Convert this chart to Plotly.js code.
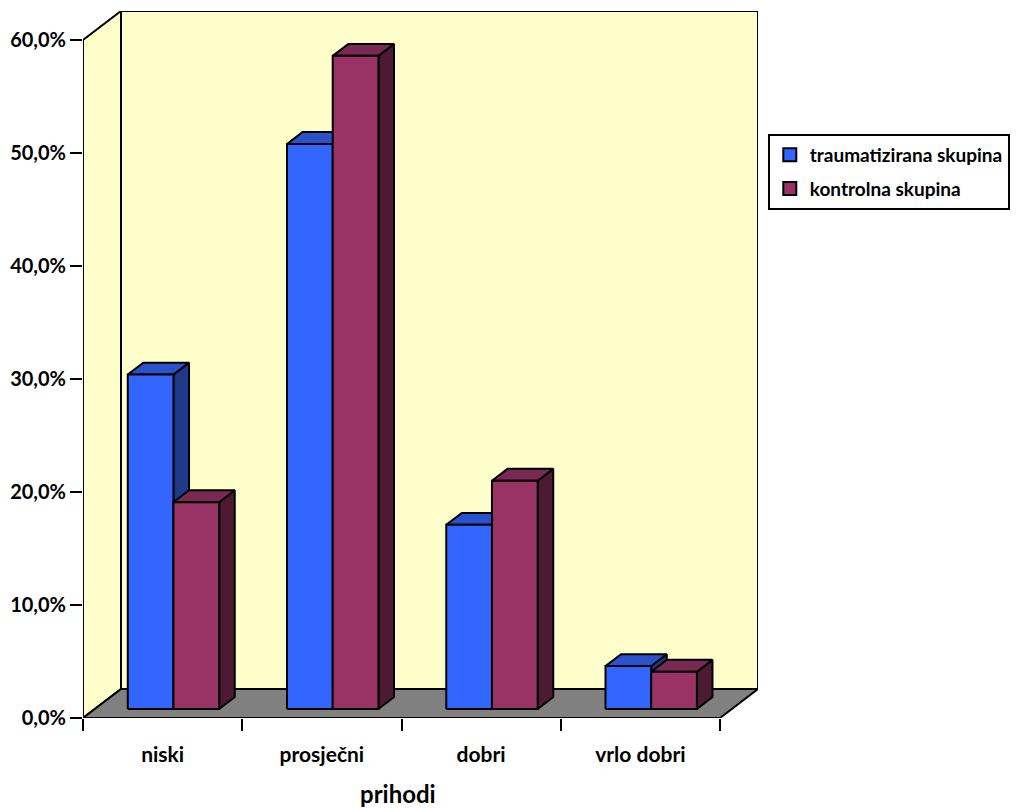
<!DOCTYPE html>
<html>
<head>
<meta charset="utf-8">
<script src="https://cdn.plot.ly/plotly-3.0.1.min.js"></script>
<style>html,body{margin:0;padding:0;background:#fff;}#chart{width:1021px;height:809px;}</style>
</head>
<body>
<div id="chart"></div>
<script>
// ---- data ----
const categories = ['niski', 'prosječni', 'dobri', 'vrlo dobri'];
const seriesNames = ['traumatizirana skupina', 'kontrolna skupina'];
const traumatizirana = [29.6, 50.0, 16.3, 3.8];
const kontrolna = [18.3, 57.8, 20.2, 3.3];
const yTicks = [0, 10, 20, 30, 40, 50, 60];
const xTitle = 'prihodi';

// ---- styles / geometry (projection constants, not data) ----
const FONT = 'Lato, "Liberation Sans", sans-serif';
const D_X = 0.2386;   // depth vector, x units
const D_Y = 2.566;    // depth vector, y units
const FRONT = 0.31;   // bar front plane position within depth
const DEPTH = 0.41;   // bar depth as fraction of depth
const BAR_W = 0.287;  // bar width (category units)
const PAIR_SHIFT = 0.068;
const nCat = categories.length;
const yMax = yTicks[yTicks.length - 1];

const colors = [
  {front: '#3366FF', top: '#2A52CC', side: '#1F3A88'},
  {front: '#993366', top: '#7A2952', side: '#4D1A33'}
];

function traceFromPolys(polys, fill, extra) {
  const x = [], y = [];
  polys.forEach((p, k) => {
    if (k > 0) { x.push(null); y.push(null); }
    p.forEach(q => { x.push(q[0]); y.push(q[1]); });
    x.push(p[0][0]); y.push(p[0][1]);
  });
  return Object.assign({
    type: 'scatter', mode: 'lines', x: x, y: y, fill: 'toself', fillcolor: fill,
    line: {color: '#000', width: 2}, hoverinfo: 'skip', showlegend: false, xaxis: 'x', yaxis: 'y'
  }, extra || {});
}

const traces = [];
// back wall
const bx0 = -0.5 + D_X, bx1 = nCat - 0.5 + D_X;
traces.push(traceFromPolys([[[bx0, D_Y], [bx1, D_Y], [bx1, yMax + D_Y], [bx0, yMax + D_Y]]], '#FFFFCC'));
// left wall
traces.push(traceFromPolys([[[-0.5, 0], [-0.5, yMax], [bx0, yMax + D_Y], [bx0, D_Y]]], '#FFFFCC'));
// floor
traces.push(traceFromPolys([[[-0.5, 0], [nCat - 0.5, 0], [bx1, D_Y], [bx0, D_Y]]], '#808080'));

const seriesVals = [traumatizirana, kontrolna];
const fy = FRONT * D_Y, ddx = DEPTH * D_X, ddy = DEPTH * D_Y;
seriesVals.forEach((vals, s) => {
  const fronts = [], tops = [], sides = [];
  vals.forEach((v, i) => {
    const xl = i + PAIR_SHIFT + (s - 1) * BAR_W;
    const xr = xl + BAR_W;
    const b = fy, t = fy + v;
    fronts.push([[xl, b], [xr, b], [xr, t], [xl, t]]);
    tops.push([[xl, t], [xr, t], [xr + ddx, t + ddy], [xl + ddx, t + ddy]]);
    sides.push([[xr, b], [xr + ddx, b + ddy], [xr + ddx, t + ddy], [xr, t]]);
  });
  traces.push(traceFromPolys(sides, colors[s].side));
  traces.push(traceFromPolys(tops, colors[s].top));
  traces.push(traceFromPolys(fronts, colors[s].front));
});

// legend entries (square swatches, no visible data)
seriesNames.forEach((name, s) => {
  traces.push({
    type: 'scatter', mode: 'markers', x: [null], y: [null], name: name,
    legendgroup: 'g' + s, showlegend: true, hoverinfo: 'skip',
    marker: {symbol: 'square', size: 13, color: colors[s].front, line: {color: '#000', width: 2}}
  });
});

// tick marks at category boundaries (xaxis2)
traces.push({type: 'scatter', x: [0], y: [0], xaxis: 'x2', yaxis: 'y', mode: 'markers',
  marker: {opacity: 0}, showlegend: false, hoverinfo: 'skip'});

const boundaries = [];
for (let i = 0; i <= nCat; i++) boundaries.push(i - 0.5);

const layout = {
  width: 1021, height: 809,
  margin: {l: 83, r: 263, t: 11, b: 91, autoexpand: false},
  paper_bgcolor: '#fff', plot_bgcolor: '#fff',
  separators: ',.',
  font: {family: FONT, color: '#000', size: 20, weight: 'bold'},
  showlegend: true,
  xaxis: {
    range: [-0.5, nCat - 0.5 + D_X], tickvals: categories.map((c, i) => i), ticktext: categories,
    ticks: '', showgrid: false, zeroline: false, showline: false, fixedrange: true,
    ticklabelstandoff: 22,
    tickfont: {family: FONT, size: 21, weight: 'bold'}
  },
  xaxis2: {
    overlaying: 'x', anchor: 'y', side: 'bottom', range: [-0.5, nCat - 0.5 + D_X],
    tickvals: boundaries, showticklabels: false, ticks: 'outside', ticklen: 12, tickwidth: 2,
    tickcolor: '#000', showgrid: false, zeroline: false, showline: false
  },
  yaxis: {
    range: [0, yMax + D_Y], tickvals: yTicks, ticktext: yTicks.map(v => v.toFixed(1).replace('.', ',') + '%'),
    ticks: 'outside', ticklen: 12, tickwidth: 2, tickcolor: '#000',
    showgrid: false, zeroline: false, showline: false, fixedrange: true,
    tickfont: {family: FONT, size: 20, weight: 'bold'}
  },
  legend: {
    x: 1.0145, y: 0.826, xanchor: 'left', yanchor: 'top',
    bgcolor: '#fff', bordercolor: '#000', borderwidth: 2,
    font: {family: FONT, size: 19, weight: 'bold'}, tracegroupgap: 6, itemwidth: 30
  },
  annotations: [{
    text: xTitle, xref: 'x', yref: 'paper', x: 1.48, y: -0.107,
    xanchor: 'center', yanchor: 'middle', showarrow: false,
    font: {family: FONT, size: 24, weight: 'bold', color: '#000'}
  }]
};

Plotly.newPlot('chart', traces, layout, {displayModeBar: false, staticPlot: true});
</script>
</body>
</html>
